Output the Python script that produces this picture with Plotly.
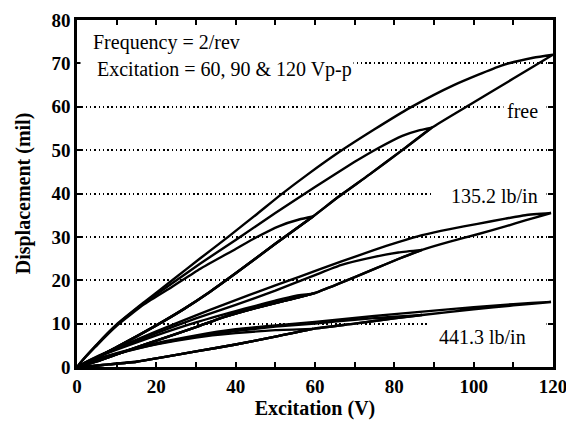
import plotly.graph_objects as go

# --- free (no spring) : lower branch shared by the 60, 90 and 120 V loops
free_lower_x = [0, 10, 20, 27, 33, 40, 50, 59.5, 66, 73.6, 82, 89.5, 98.7, 110, 120]
free_lower_y = [0, 4.6, 9.6, 13.4, 17, 21.6, 28.4, 34.7, 39.3, 44.3, 50, 55.2, 60.3, 66.5, 72]
free_up60_x = [0, 5, 10, 17, 24, 31, 40, 45, 51, 56, 59.5]
free_up60_y = [0, 5, 9.5, 14.5, 18.5, 22.6, 27.2, 29.8, 32.5, 34, 34.7]
free_up90_x = [0, 5, 10, 17, 24, 31, 40, 50, 60, 70, 76, 82, 86, 89.5]
free_up90_y = [0, 5.1, 9.7, 14.8, 19.3, 23.8, 29.3, 35.5, 41.5, 47.3, 50.5, 53.3, 54.5, 55.2]
free_up120_x = [0, 5, 10, 17, 24, 31, 38.5, 45, 51.5, 58, 66, 75, 84, 95, 107, 115, 120]
free_up120_y = [0, 5.2, 9.8, 15, 20, 25, 30.3, 35, 39.8, 44.3, 49.5, 54.8, 59.8, 65, 69.5, 71.3, 72]

# --- 135.2 lb/in
k1_lower_x = [0, 5, 10, 15, 20, 30, 37, 45, 52, 59.5, 66, 75, 81, 87, 94, 101, 108, 113, 119.5]
k1_lower_y = [0, 1.3, 2.9, 4.5, 6.1, 9.2, 11.5, 13.6, 15.2, 16.9, 19.2, 22.6, 24.9, 27, 28.9, 30.6, 32.4, 33.8, 35.5]
k1_up60_x = [0, 5, 10, 20, 30, 40, 45, 50, 55, 59.5]
k1_up60_y = [0, 2.2, 4, 7.3, 10.3, 12.9, 14.1, 15.3, 16.4, 16.9]
k1_up90_x = [0, 5, 10, 20, 30, 40, 50, 60, 66.5, 75, 81, 87]
k1_up90_y = [0, 2.3, 4.2, 7.8, 11.2, 14.3, 17.6, 21.2, 23.5, 25.4, 26.4, 27]
k1_up120_x = [0, 5, 10, 20, 30, 37, 50, 56, 66.5, 75, 81, 87, 94, 101, 108, 113, 119.5]
k1_up120_y = [0, 2.4, 4.4, 8.2, 11.9, 14.4, 18.8, 20.8, 24.3, 27, 28.8, 30.4, 31.8, 33, 34.2, 35, 35.5]

# --- 441.3 lb/in
k2_lower_x = [0, 8, 15, 20, 30, 40, 50, 59.5, 70, 80, 87, 100, 110, 119.5]
k2_lower_y = [0, 0.6, 1.2, 2, 3.6, 5.2, 7, 8.8, 10, 11.2, 12, 13.3, 14.2, 15]
k2_up60_x = [0, 5, 10, 20, 30, 40, 50, 59.5]
k2_up60_y = [0, 1.7, 3, 5.2, 6.8, 7.8, 8.5, 8.8]
k2_up90_x = [0, 5, 10, 20, 30, 40, 50, 60, 70, 80, 87]
k2_up90_y = [0, 1.8, 3.1, 5.3, 7, 8.3, 9.3, 10, 10.9, 11.6, 12]
k2_up120_x = [0, 5, 10, 20, 30, 40, 50, 60, 70, 80, 90, 100, 110, 119.5]
k2_up120_y = [0, 1.8, 3.2, 5.5, 7.3, 8.7, 9.6, 10.4, 11.3, 12.2, 13, 13.8, 14.5, 15]

x_tickvals = [0, 10, 20, 30, 40, 50, 60, 70, 80, 90, 100, 110, 120]
x_ticktext = ['0', '', '20', '', '40', '', '60', '', '80', '', '100', '', '120']
y_tickvals = [0, 10, 20, 30, 40, 50, 60, 70, 80]

SERIF = 'Liberation Serif'


def loop(lx, ly, ux, uy):
    """lower branch up to the tip of this loop, then the upper branch back to 0"""
    tip = ux[-1]
    n = max(i for i, v in enumerate(lx) if v <= tip + 1e-9)
    xs = lx[:n + 1] + ux[::-1]
    ys = ly[:n + 1] + uy[::-1]
    return xs, ys


loops = [
    (free_lower_x, free_lower_y, free_up60_x, free_up60_y),
    (free_lower_x, free_lower_y, free_up90_x, free_up90_y),
    (free_lower_x, free_lower_y, free_up120_x, free_up120_y),
    (k1_lower_x, k1_lower_y, k1_up60_x, k1_up60_y),
    (k1_lower_x, k1_lower_y, k1_up90_x, k1_up90_y),
    (k1_lower_x, k1_lower_y, k1_up120_x, k1_up120_y),
    (k2_lower_x, k2_lower_y, k2_up60_x, k2_up60_y),
    (k2_lower_x, k2_lower_y, k2_up90_x, k2_up90_y),
    (k2_lower_x, k2_lower_y, k2_up120_x, k2_up120_y),
]

fig = go.Figure()
for lx, ly, ux, uy in loops:
    xs, ys = loop(lx, ly, ux, uy)
    fig.add_trace(go.Scatter(
        x=xs, y=ys, mode='lines',
        line=dict(color='black', width=2.4, shape='spline', smoothing=0.5),
        hoverinfo='skip'
    ))

# the page body keeps its default 8px margin, so the figure is a bit smaller
fig.update_layout(
    width=566, height=417,
    margin=dict(l=69, r=21, t=12, b=58, autoexpand=False),
    plot_bgcolor='white', paper_bgcolor='white',
    showlegend=False,
    font=dict(family=SERIF, color='black', size=19),
)

fig.update_xaxes(
    range=[0, 120], tickvals=x_tickvals, ticktext=x_ticktext,
    ticks='inside', ticklen=5, tickwidth=1.5, tickcolor='black',
    showline=True, linewidth=2.5, linecolor='black', mirror='ticks',
    showgrid=False, zeroline=False, automargin=False,
    tickfont=dict(family=SERIF, size=19, weight='bold'),
    title=dict(text='Excitation (V)', font=dict(family=SERIF, size=20, weight='bold'), standoff=6),
)

fig.update_yaxes(
    range=[0, 80], tickvals=y_tickvals,
    ticks='inside', ticklen=5, tickwidth=1.5, tickcolor='black',
    showline=True, linewidth=2.5, linecolor='black', mirror='ticks',
    showgrid=True, gridcolor='black', gridwidth=1.5, griddash='1.5px,2.8px',
    zeroline=False, automargin=False,
    tickfont=dict(family=SERIF, size=19, weight='bold'),
    title=dict(text='Displacement (mil)', font=dict(family=SERIF, size=20, weight='bold'), standoff=16),
)

# text boxes (white background hides the dotted grid behind them)
fig.add_annotation(xref='paper', yref='paper', x=0.03, y=0.934, xanchor='left', yanchor='middle',
                   text='Frequency = 2/rev', showarrow=False, font=dict(family=SERIF, size=20))
fig.add_annotation(xref='paper', yref='paper', x=0.006, y=0.856, xanchor='left', yanchor='middle',
                   text='\u00a0\u00a0\u00a0Excitation = 60, 90 &amp; 120 Vp-p', showarrow=False,
                   bgcolor='white', borderpad=1, font=dict(family=SERIF, size=20))
fig.add_annotation(xref='paper', yref='y', x=0.988, y=59, xanchor='right', yanchor='middle',
                   text='free\u00a0', showarrow=False, bgcolor='white', borderpad=3,
                   font=dict(family=SERIF, size=20))
fig.add_annotation(xref='paper', yref='y', x=0.988, y=39.5, xanchor='right', yanchor='middle',
                   text='\u00a0\u00a0\u00a0135.2 lb/in\u00a0', showarrow=False, bgcolor='white', borderpad=3,
                   font=dict(family=SERIF, size=20))
fig.add_annotation(xref='paper', yref='y', x=0.988, y=6.9, xanchor='right', yanchor='middle',
                   text='\u00a0441.3 lb/in\u00a0\u00a0\u00a0', showarrow=False, bgcolor='white', borderpad=5,
                   font=dict(family=SERIF, size=20))

fig.write_html("out.html")
